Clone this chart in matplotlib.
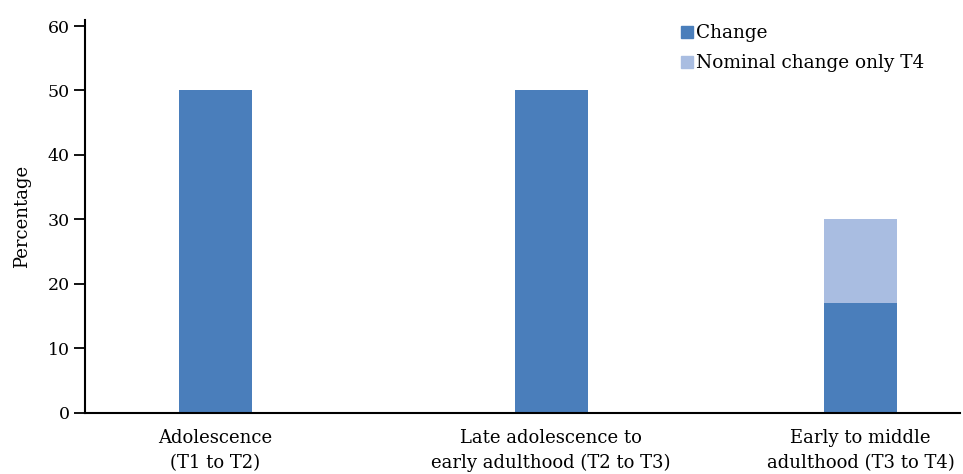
import numpy as np
import matplotlib
matplotlib.use("Agg")
import matplotlib.pyplot as plt
from matplotlib.lines import Line2D

plt.rcParams["font.family"] = ["DejaVu Serif"]

# data
categories = ["Adolescence\n(T1 to T2)",
              "Late adolescence to\nearly adulthood (T2 to T3)",
              "Early to middle\nadulthood (T3 to T4)"]
change = [50, 50, 17]
nominal_t4 = [0, 0, 13]
series_names = ["Change", "Nominal change only T4"]

# layout (category centres as drawn in the original, not evenly spaced)
x_pos = [0, 1, 1.9225]
bar_width = 0.218
DARK = "#4A7EBB"
LIGHT = "#A9BDE1"

fig = plt.figure(figsize=(9.63, 4.74), dpi=100)
ax = fig.add_axes([0.0883, 0.1293, 0.9087, 0.8294])

ax.bar(x_pos, change, bar_width, color=DARK)
ax.bar(x_pos, nominal_t4, bar_width, bottom=change, color=LIGHT)

ax.set_xlim(-0.389, 2.219)
ax.set_ylim(0, 61)
ax.set_yticks(np.arange(0, 61, 10))
ax.set_xticks(x_pos)
ax.set_xticklabels(categories, fontsize=13, linespacing=1.45)
ax.tick_params(axis="x", length=0, pad=12)
ax.tick_params(axis="y", length=8, width=1.3, labelsize=12.5, pad=3)
ax.set_ylabel("Percentage", fontsize=13, labelpad=12)

for s in ["top", "right"]:
    ax.spines[s].set_visible(False)
for s in ["left", "bottom"]:
    ax.spines[s].set_linewidth(1.5)

handles = [Line2D([], [], marker="s", linestyle="none", markersize=9, color=DARK),
           Line2D([], [], marker="s", linestyle="none", markersize=9, color=LIGHT)]
fig.legend(handles, series_names, loc="upper left", bbox_to_anchor=(0.699, 0.965),
           frameon=False, fontsize=13.3, handlelength=0.7, handletextpad=0.15,
           labelspacing=0.65, borderaxespad=0)

fig.savefig("out.png", dpi=100)
